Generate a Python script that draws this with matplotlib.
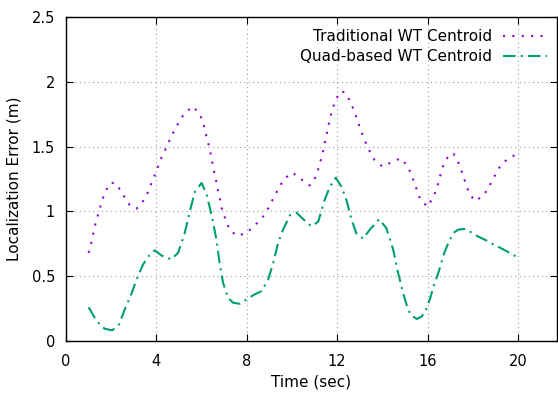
import matplotlib
matplotlib.use('Agg')
import matplotlib.pyplot as plt
from matplotlib.ticker import FuncFormatter

# valores (tempo em s, erro em m)
t_trad = [1.0, 1.12, 1.22, 1.32, 1.45, 1.57, 1.73, 1.96, 2.17, 2.47, 2.75, 3.12,
          3.41, 3.63, 3.81, 4.0, 4.16, 4.35, 4.56, 4.78, 5.0, 5.25, 5.62, 5.92,
          6.08, 6.2, 6.32, 6.42, 6.51, 6.62, 6.7, 6.81, 6.91, 7.06, 7.26, 7.61,
          8.03, 8.4, 8.72, 8.97, 9.2, 9.42, 9.65, 10.02, 10.39, 10.79, 11.07,
          11.2, 11.34, 11.44, 11.54, 11.65, 11.76, 11.91, 12.13, 12.34, 12.58,
          12.75, 12.9, 13.06, 13.24, 13.42, 13.64, 14.01, 14.41, 14.82, 15.12,
          15.32, 15.5, 15.66, 15.99, 16.26, 16.43, 16.57, 16.72, 16.96, 17.15,
          17.37, 17.53, 17.68, 17.84, 18.1, 18.47, 18.72, 18.96, 19.22, 19.57, 20.0]
e_trad = [0.68, 0.76, 0.84, 0.92, 0.99, 1.07, 1.15, 1.22, 1.22, 1.15, 1.06, 1.02,
          1.08, 1.15, 1.23, 1.31, 1.39, 1.46, 1.54, 1.62, 1.69, 1.76, 1.81, 1.75,
          1.68, 1.59, 1.51, 1.43, 1.34, 1.26, 1.18, 1.10, 1.01, 0.94, 0.85, 0.81,
          0.84, 0.90, 0.96, 1.03, 1.11, 1.18, 1.25, 1.30, 1.25, 1.20, 1.27,
          1.35, 1.435, 1.52, 1.60, 1.69, 1.77, 1.85, 1.925, 1.92, 1.85,
          1.775, 1.70, 1.62, 1.54, 1.47, 1.40, 1.345, 1.38, 1.41, 1.35,
          1.27, 1.18, 1.10, 1.036, 1.11, 1.19, 1.28, 1.365, 1.44, 1.445,
          1.375, 1.30, 1.22, 1.14, 1.08, 1.12, 1.19, 1.27, 1.35, 1.41, 1.445]

t_quad = [1.0, 1.27, 1.49, 1.71, 2.04, 2.35, 2.6, 2.89, 3.11, 3.41, 3.68, 3.93,
          4.22, 4.66, 4.96, 5.25, 5.48, 5.7, 6.0, 6.21, 6.46, 6.66, 6.8, 6.95,
          7.18, 7.4, 7.69, 7.98, 8.35, 8.65, 8.94, 9.17, 9.39, 9.61, 9.91, 10.2,
          10.5, 10.86, 11.16, 11.45, 11.68, 11.94, 12.19, 12.41, 12.63, 12.85,
          13.15, 13.45, 13.86, 14.18, 14.48, 14.7, 14.92, 15.14, 15.3, 15.53,
          15.75, 15.94, 16.12, 16.26, 16.44, 16.59, 16.74, 16.93, 17.15, 17.37,
          17.68, 17.96, 18.25, 18.59, 18.91, 19.21, 19.53, 19.87, 20.0]
e_quad = [0.26, 0.18, 0.128, 0.095, 0.082, 0.128, 0.244, 0.36, 0.47, 0.59, 0.66, 0.70,
          0.66, 0.63, 0.68, 0.83, 1.0, 1.15, 1.22, 1.14, 0.96, 0.78, 0.60, 0.45,
          0.33, 0.295, 0.287, 0.32, 0.36, 0.385, 0.47, 0.60, 0.76, 0.86, 0.97, 0.99,
          0.94, 0.885, 0.92, 1.09, 1.19, 1.26, 1.19, 1.09, 0.94, 0.83,
          0.79, 0.86, 0.94, 0.87, 0.705, 0.525, 0.37, 0.24, 0.195, 0.17,
          0.19, 0.246, 0.33, 0.42, 0.505, 0.59, 0.68, 0.76, 0.835, 0.86,
          0.865, 0.835, 0.805, 0.777, 0.746, 0.72, 0.69, 0.657, 0.65]

rotulo_trad = 'Traditional WT Centroid'
rotulo_quad = 'Quad-based WT Centroid'

fig = plt.figure(figsize=(5.58, 3.94), dpi=100)
ax = fig.add_axes([66 / 558, 1 - 341 / 394, (557 - 66) / 558, (341 - 17) / 394])

ax.plot(t_trad, e_trad, color='#9400d3', lw=1.5, linestyle=(0, (1, 3.5)),
        dash_capstyle='butt', label=rotulo_trad)
ax.plot(t_quad, e_quad, color='#009e73', lw=1.5, linestyle=(0, (6, 2.5, 1, 2.5)),
        dash_capstyle='butt', label=rotulo_quad)

ax.set_xlim(0, 21.73)
ax.set_ylim(0, 2.5)
ax.set_xticks([0, 4, 8, 12, 16, 20])
ax.set_yticks([0, 0.5, 1, 1.5, 2, 2.5])
ax.yaxis.set_major_formatter(FuncFormatter(lambda v, p: f'{v:g}'))
ax.tick_params(direction='in', length=5, top=True, right=True, labelsize=10.5,
               colors='black')
ax.tick_params(axis='x', pad=9)
ax.tick_params(axis='y', pad=8)
ax.grid(True, color='#a0a0a0', linestyle=(0, (1, 3)), lw=0.8)
for s in ax.spines.values():
    s.set_linewidth(1.0)

ax.set_xlabel('Time (sec)', fontsize=11, labelpad=4)
ax.set_ylabel('Localization Error (m)', fontsize=11, labelpad=7)

ax.legend(loc='upper right', frameon=False, markerfirst=False, fontsize=11,
          handlelength=2.9, handletextpad=0.7, borderaxespad=0, borderpad=0,
          labelspacing=0.3, bbox_to_anchor=(0.98, 0.962))

fig.savefig('out.png', dpi=100)
